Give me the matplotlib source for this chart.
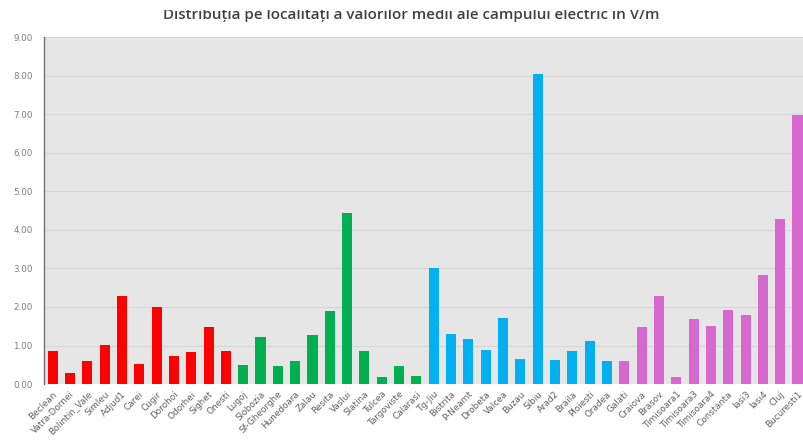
import matplotlib
matplotlib.use('Agg')
import matplotlib.pyplot as plt
from matplotlib.patches import Rectangle
import numpy as np

# Mean electric field per locality, grouped in four regions
grup_rosu = ['Beclean', 'Vatra-Dornei', 'Bolintin_Vale', 'Simleu', 'Adjud1', 'Carei',
             'Cugir', 'Dorohoi', 'Odorhei', 'Sighet', 'Onesti']
val_rosu = [0.86, 0.30, 0.60, 1.02, 2.29, 0.53, 2.00, 0.72, 0.84, 1.48, 0.86]

grup_verde = ['Lugoj', 'Slobozia', 'Sf-Gheorghe', 'Hunedoara', 'Zalau', 'Resita',
              'Vaslui', 'Slatina', 'Tulcea', 'Targoviste', 'Calarasi']
val_verde = [0.50, 1.21, 0.47, 0.61, 1.28, 1.89, 4.43, 0.85, 0.18, 0.48, 0.22]

grup_albastru = ['Tg-Jiu', 'Bistrita', 'P-Neamt', 'Drobeta', 'Valcea', 'Buzau',
                 'Sibiu', 'Arad2', 'Braila', 'Ploiesti', 'Oradea']
val_albastru = [3.00, 1.29, 1.17, 0.88, 1.71, 0.64, 8.05, 0.62, 0.86, 1.12, 0.60]

grup_mov = ['Galati', 'Craiova', 'Brasov', 'Timisoara1', 'Timisoara3', 'Timisoara4',
            'Constanta', 'Iasi3', 'Iasi4', 'Cluj', 'Bucuresti1']
val_mov = [0.60, 1.48, 2.28, 0.18, 1.68, 1.51, 1.92, 1.78, 2.82, 4.28, 6.99]

culori = ['#FF0000', '#00B050', '#00B0F0', '#D668CF']

localitati = grup_rosu + grup_verde + grup_albastru + grup_mov
valori = val_rosu + val_verde + val_albastru + val_mov
culori_bare = ([culori[0]] * len(grup_rosu) + [culori[1]] * len(grup_verde)
               + [culori[2]] * len(grup_albastru) + [culori[3]] * len(grup_mov))

fig = plt.figure(figsize=(8.04, 4.41), dpi=100)
ax = fig.add_axes([0.0547, 0.129, 0.948, 0.787])
ax.set_facecolor('#E6E6E6')

x = np.arange(len(localitati))
ax.bar(x, valori, width=0.58, color=culori_bare, zorder=3)

ax.set_xlim(-0.5, len(localitati) - 0.5)
ax.set_ylim(0, 9)
ax.set_yticks(np.arange(0, 10, 1))
ax.set_yticklabels([f'{v:.2f}' for v in np.arange(0, 10, 1)])
ax.yaxis.grid(True, color='#D6D6D6', linewidth=0.8, zorder=0)

ax.set_xticks(x)
ax.set_xticklabels(localitati, rotation=45, ha='right', rotation_mode='anchor')
ax.tick_params(axis='x', length=0, labelsize=6.4, colors='#606060', pad=4)
ax.tick_params(axis='y', length=0, labelsize=6.3, colors='#7F7F7F', pad=8)

for s in ['top', 'right', 'bottom']:
    ax.spines[s].set_visible(False)
ax.spines['left'].set_color('#6E6E6E')
ax.spines['left'].set_linewidth(1.0)

fig.text(0.512, 0.966, 'Distribuția pe localitați a valorilor medii ale campului electric in V/m',
         ha='center', va='center', fontsize=10.9, color='#404040',
         family=['Open Sans', 'DejaVu Sans'], weight='semibold')

# white band across the top edge, trimming the title
fig.patches.append(Rectangle((0, 1 - 10 / 441), 1, 10 / 441, transform=fig.transFigure,
                             facecolor='white', edgecolor='none', zorder=10))

plt.savefig('out.png', dpi=100)
plt.close()
